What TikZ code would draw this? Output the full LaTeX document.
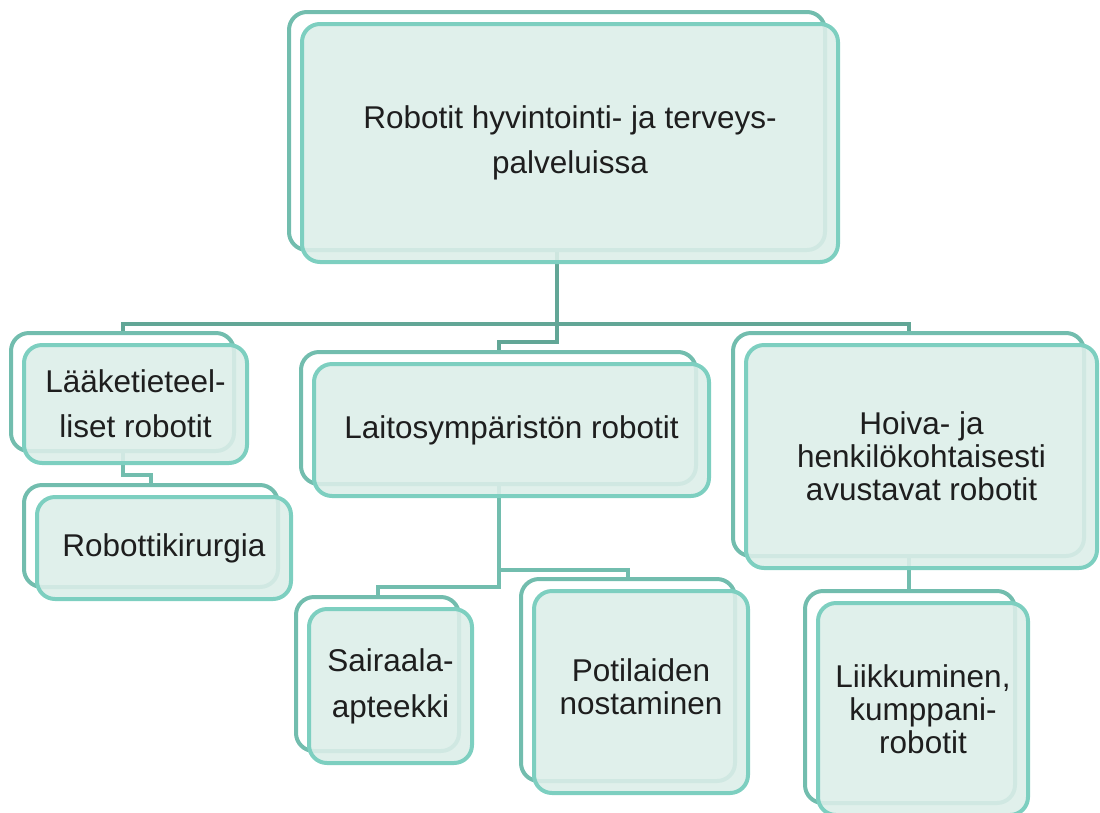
\documentclass[tikz,border=0pt]{standalone}
\usepackage{fontspec}
\setmainfont{Liberation Sans}
\usetikzlibrary{backgrounds}
\definecolor{backline}{HTML}{72BDAE}
\definecolor{frontline}{HTML}{7DCFC0}
\definecolor{frontfill}{HTML}{DCEEE9}
\definecolor{linkdark}{HTML}{62A696}
\definecolor{linklight}{HTML}{72BDAE}
\definecolor{txt}{HTML}{1E1E1E}

% one entry of the chart: an outline box behind, a tinted box in front
% #1 name, #2 centre x, #3 centre y, #4 width, #5 height, #6 line spacing, #7 text
\newcommand\orgbox[7]{%
  \node[backbox, minimum width=#4, minimum height=#5] (#1b) at (#2-13,#3-12) {};
  \node[frontbox, minimum width=#4, minimum height=#5,
        font=\fontsize{31.5}{#6}\selectfont] (#1) at (#2,#3) {#7};
}

\begin{document}
\begin{tikzpicture}[x=1pt,y=-1pt,
  backbox/.style={draw=backline, line width=4pt, rounded corners=18pt,
                  inner sep=0pt, shape=rectangle},
  frontbox/.style={draw=frontline, line width=4pt, rounded corners=18pt,
                   fill=frontfill, fill opacity=0.89, text opacity=1,
                   text=txt, align=center, inner sep=0pt, shape=rectangle},
  linkmain/.style={draw=linkdark, line width=4pt},
  linksub/.style={draw=linklight, line width=4pt}]
\useasboundingbox (0,0) rectangle (1100,812);

% boxes
\orgbox{root}{570}{143}{536}{238}{45}{Robotit hyvintointi- ja terveys-\\palveluissa}
\orgbox{lt}{135.5}{404}{223}{118}{45}{Lääketieteel-\\liset robotit}
\orgbox{rk}{164}{548}{254}{102}{45}{Robottikirurgia}
\orgbox{la}{511.5}{430}{395}{132}{45}{Laitosympäristön robotit}
\orgbox{ho}{921.5}{456.5}{351}{223}{33}{Hoiva- ja\\henkilökohtaisesti\\avustavat robotit}
\orgbox{sa}{390.5}{686}{163}{154}{46}{Sairaala-\\apteekki}
\orgbox{po}{641}{692}{214}{202}{33}{Potilaiden\\nostaminen\\[-23pt]}
\orgbox{li}{923}{709}{210}{212}{33}{Liikkuminen,\\kumppani-\\robotit}

% links, kept behind the boxes
\begin{scope}[on background layer]
\draw[linkmain] (rootb.south) -- ++(0,72) -| (ltb.north);
\draw[linkmain] (rootb.south) -- ++(0,72) -| (hob.north);
\draw[linkmain] (rootb.south) -- ++(0,90) -| (lab.north);
\draw[linksub] (ltb.south) -- ++(0,22) -| (rkb.north);
\draw[linksub] (lab.south) -- ++(0,84) -| (pob.north);
\draw[linksub] (lab.south) -- ++(0,101) -| (sab.north);
\draw[linksub] (hob.south) -- (hob.south |- lib.north);
\end{scope}
\end{tikzpicture}
\end{document}
